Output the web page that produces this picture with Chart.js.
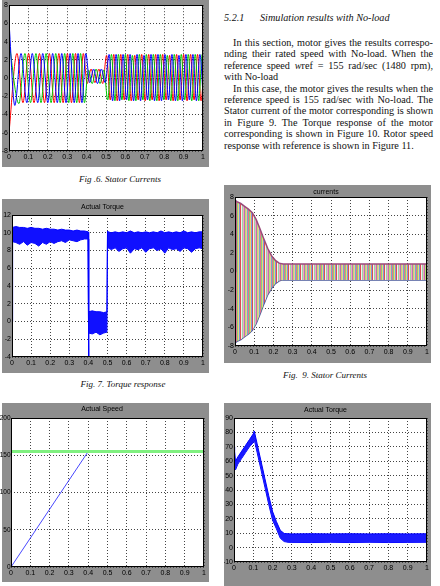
<!DOCTYPE html>
<html>
<head>
<meta charset="utf-8">
<script src="https://cdn.jsdelivr.net/npm/chart.js@4.4.1/dist/chart.umd.min.js"></script>
<style>
  body { margin: 0; width: 440px; height: 586px; overflow: hidden; background: #fff; position: relative;
         font-family: 'Liberation Serif', 'Times New Roman', serif; color: #111; }
  .frame { position: absolute; background: #8e8e8e; }
  .frame canvas { display: block; }
  .cap { position: absolute; font-style: italic; font-size: 9px; line-height: 10px; white-space: nowrap; transform: translateX(-50%); }
  .txt { position: absolute; left: 224px; width: 209px; font-size: 10.2px; line-height: 11.4px; }
  .txt div { height: 11.4px; }
  .j { text-align: justify; text-align-last: justify; }
  .ind { padding-left: 9px; }
</style>
</head>
<body>

<div class="frame" style="left:2px;top:0;width:207px;height:167px"><canvas id="fig6" width="207" height="167"></canvas></div>
<div class="cap" style="left:120px;top:174px">Fig .6. Stator Currents</div>

<div class="frame" style="left:2px;top:199px;width:207px;height:174px"><canvas id="fig7" width="207" height="174"></canvas></div>
<div class="cap" style="left:123px;top:379px">Fig. 7. Torque response</div>

<div class="frame" style="left:2px;top:403px;width:207px;height:179px"><canvas id="fig8" width="209" height="179" style="margin-left:-2px"></canvas></div>

<div class="frame" style="left:224px;top:185px;width:207px;height:178px"><canvas id="fig9" width="207" height="178"></canvas></div>
<div class="cap" style="left:325px;top:370px">Fig.&nbsp; 9. Stator Currents</div>

<div class="frame" style="left:224px;top:403px;width:207px;height:187px"><canvas id="fig10" width="207" height="187"></canvas></div>

<div class="txt" style="top:12px;font-style:italic;line-height:12px">
  <span>5.2.1</span><span style="position:absolute;left:36px">Simulation results with No-load</span>
</div>
<div class="txt" style="top:37px">
  <div class="j ind">In this section, motor gives the results correspo-</div>
  <div class="j">nding their rated speed with No-load. When the</div>
  <div class="j">reference speed <i>w</i>ref = 155 rad/sec (1480 rpm),</div>
  <div>with No-load</div>
  <div class="j ind">In this case, the motor gives the results when the</div>
  <div class="j">reference speed is 155 rad/sec with No-load. The</div>
  <div class="j">Stator current of the motor corresponding is shown</div>
  <div class="j">in Figure 9. The Torque response of the motor</div>
  <div class="j">corresponding is shown in Figure 10. Rotor speed</div>
  <div>response with reference is shown in Figure 11.</div>
</div>

<script>
// shared x ticks (time, s)
const xTicks = [0, 0.1, 0.2, 0.3, 0.4, 0.5, 0.6, 0.7, 0.8, 0.9, 1];

// Fig 6 - three phase stator currents (peak times / peak values)
const curA_t = [0, 0.030, 0.062, 0.092, 0.120, 0.148, 0.174, 0.200, 0.225, 0.249, 0.272, 0.294, 0.315, 0.336, 0.356, 0.376, 0.396,
  0.416, 0.436, 0.456, 0.476, 0.496, 0.516,
  0.534, 0.552, 0.570, 0.588, 0.606, 0.624, 0.642, 0.660, 0.678, 0.696, 0.714, 0.732, 0.750, 0.768, 0.786, 0.804, 0.822, 0.840,
  0.858, 0.876, 0.894, 0.912, 0.930, 0.948, 0.966, 0.984, 1.002];
const curA_y = [6.2, -3.0, 2.7, -2.7, 2.7, -2.7, 2.7, -2.7, 2.7, -2.7, 2.7, -2.7, 2.7, -2.7, 2.7, -2.7, 2.7,
  -0.5, 1.0, -0.6, 1.0, -0.5, 2.6,
  -2.5, 2.6, -2.5, 2.6, -2.4, 2.6, -2.5, 2.6, -2.5, 2.5, -2.4, 2.6, -2.5, 2.6, -2.5, 2.6, -2.4, 2.6, -2.5, 2.5,
  -2.5, 2.6, -2.4, 2.6, -2.5, 2.6, -2.5];
const curB_t = [0, 0.051, 0.082, 0.111, 0.139, 0.165, 0.191, 0.217, 0.241, 0.264, 0.287, 0.308, 0.329, 0.349, 0.369, 0.389,
  0.409, 0.429, 0.449, 0.469, 0.489, 0.509,
  0.528, 0.546, 0.564, 0.582, 0.600, 0.618, 0.636, 0.654, 0.672, 0.690, 0.708, 0.726, 0.744, 0.762, 0.780, 0.798, 0.816, 0.834,
  0.852, 0.870, 0.888, 0.906, 0.924, 0.942, 0.960, 0.978, 0.996, 1.014];
const curB_y = [4.0, -2.8, 2.7, -2.7, 2.7, -2.7, 2.7, -2.7, 2.7, -2.7, 2.7, -2.7, 2.7, -2.7, 2.7, -2.7,
  0.9, -0.6, 1.0, -0.6, 0.9, -2.4,
  2.6, -2.5, 2.6, -2.4, 2.6, -2.5, 2.5, -2.5, 2.6, -2.4, 2.6, -2.5, 2.6, -2.5,
  2.6, -2.4, 2.5, -2.5, 2.6, -2.5, 2.6, -2.4, 2.6, -2.5, 2.6, -2.5, 2.6, -2.4];
const curC_t = [0, 0.041, 0.072, 0.101, 0.129, 0.157, 0.183, 0.208, 0.233, 0.257, 0.279, 0.301, 0.322, 0.343, 0.363, 0.383,
  0.403, 0.423, 0.443, 0.463, 0.483, 0.503,
  0.522, 0.540, 0.558, 0.576, 0.594, 0.612, 0.630, 0.648, 0.666, 0.684, 0.702, 0.720, 0.738, 0.756, 0.774, 0.792, 0.810, 0.828,
  0.846, 0.864, 0.882, 0.900, 0.918, 0.936, 0.954, 0.972, 0.990, 1.008];
const curC_y = [-6.0, 2.7, -2.7, 2.7, -2.7, 2.7, -2.7, 2.7, -2.7, 2.7, -2.7, 2.7, -2.7, 2.7, -2.7, 2.7,
  -0.6, 1.0, -0.5, 1.0, -0.6, 2.5,
  -2.4, 2.6, -2.5, 2.6, -2.4, 2.6, -2.5, 2.5, -2.4, 2.6, -2.5, 2.6, -2.4, 2.6,
  -2.5, 2.6, -2.4, 2.5, -2.5, 2.6, -2.4, 2.6, -2.5, 2.6, -2.4, 2.6, -2.5, 2.6];
const fig6YTicks = [-8, -6, -4, -2, 0, 2, 4, 6, 8];

// Fig 7 - torque band (upper / lower edge of the ripple)
const torq1_t = [0, 0.003, 0.02, 0.04, 0.06, 0.08, 0.10, 0.12, 0.14, 0.16, 0.18, 0.20, 0.22, 0.24, 0.26, 0.28, 0.30, 0.32, 0.34,
  0.36, 0.38, 0.398, 0.400, 0.403, 0.42, 0.44, 0.46, 0.48, 0.497, 0.500, 0.503, 0.52, 0.54, 0.56, 0.58, 0.60, 0.62, 0.64,
  0.66, 0.68, 0.70, 0.72, 0.74, 0.76, 0.78, 0.80, 0.82, 0.84, 0.86, 0.88, 0.90, 0.92, 0.94, 0.96, 0.98, 1.0];
const torq1_hi = [0, 10.6, 10.7, 10.6, 10.6, 10.5, 10.6, 10.5, 10.5, 10.4, 10.5, 10.4, 10.4, 10.3, 10.4, 10.3, 10.3, 10.2, 10.3,
  10.2, 10.2, 10.1, -4, 1.1, 1.2, 1.1, 1.1, 1.0, 1.1, 10.2, 10.1, 10.0, 10.1, 10.0, 10.1, 10.0, 10.2, 10.0,
  10.1, 10.0, 10.1, 10.0, 10.1, 10.0, 10.2, 10.0, 10.1, 10.0, 10.1, 10.0, 10.2, 10.0, 10.1, 10.0, 10.1, 10.1];
const torq1_lo = [0, 9.0, 8.9, 8.7, 9.0, 8.6, 8.9, 8.8, 8.5, 8.9, 8.7, 9.0, 8.8, 9.0, 9.1, 8.9, 9.2, 9.1, 9.0,
  9.2, 9.3, 9.3, -4, -1.3, -1.4, -1.2, -1.5, -1.3, -1.2, 10.0, 8.3, 8.1, 8.3, 7.9, 8.2, 8.3, 7.7, 8.2,
  8.1, 8.3, 7.8, 8.2, 8.3, 8.0, 8.2, 7.7, 8.3, 8.1, 8.2, 7.9, 8.3, 8.2, 7.8, 8.2, 8.3, 8.2];
const fig7YTicks = [-4, -2, 0, 2, 4, 6, 8, 10, 12];

// Fig 8 - rotor speed and reference (rad/s)
const speedRef_t = [0, 1];
const speedRef_y = [155, 155];
const speed_t = [0, 0.4, 1];
const speed_y = [0, 155, 155];
const fig8YTicks = [0, 50, 100, 150, 200];

// Fig 9 - stator currents, no load (envelope of the oscillation)
const cur2_t = [0, 0.004, 0.01, 0.03, 0.05, 0.07, 0.09, 0.11, 0.13, 0.15, 0.17, 0.19, 0.21, 0.23, 0.25, 0.27, 0.30,
  0.40, 0.50, 0.60, 0.70, 0.80, 0.90, 1.00];
const cur2_hi = [0, 7.6, 7.5, 7.3, 7.0, 6.7, 6.3, 5.6, 4.6, 3.5, 2.5, 1.7, 1.2, 0.9, 0.8, 0.8, 0.8,
  0.8, 0.8, 0.8, 0.8, 0.8, 0.8, 0.8];
const cur2_lo = [0, -7.6, -7.5, -7.3, -7.0, -6.7, -6.3, -5.6, -4.6, -3.5, -2.5, -1.8, -1.3, -1.0, -0.9, -0.9, -0.9,
  -0.9, -0.9, -0.9, -0.9, -0.9, -0.9, -0.9];
const fig9YTicks = [-8, -6, -4, -2, 0, 2, 4, 6, 8];

// Fig 10 - torque, no load
const torq2_t = [0, 0.003, 0.008, 0.02, 0.04, 0.06, 0.08, 0.10, 0.105, 0.12, 0.14, 0.16, 0.18, 0.20, 0.22, 0.24, 0.26,
  0.28, 0.30, 0.40, 0.50, 0.60, 0.70, 0.80, 0.90, 1.00];
const torq2_hi = [70, 67, 60, 63, 67, 71, 75, 79, 81, 72, 60, 48, 36, 25, 18, 12, 9.8,
  9.6, 9.5, 9.6, 9.5, 9.6, 9.5, 9.6, 9.5, 9.6];
const torq2_lo = [56, 55, 54, 58, 62, 66, 70, 73, 75, 66, 54, 42, 30, 19, 13, 6.5, 4.2,
  3.7, 3.6, 3.5, 3.7, 3.5, 3.7, 3.5, 3.6, 3.7];
const fig10YTicks = [-10, 0, 10, 20, 30, 40, 50, 60, 70, 80, 90];

Chart.defaults.font.family = "'Liberation Sans', Arial, sans-serif";
Chart.defaults.font.size = 7;
Chart.defaults.color = '#000';

function pts(ts, ys) {
  return ts.map((t, i) => ({ x: t, y: ys[i] }));
}

// white plot area + black box like a matlab axes
const matlabBox = {
  id: 'matlabBox',
  beforeDraw(chart) {
    const a = chart.chartArea, ctx = chart.ctx;
    ctx.save();
    ctx.fillStyle = '#fff';
    ctx.fillRect(a.left, a.top, a.right - a.left, a.bottom - a.top);
    ctx.restore();
  },
  afterDraw(chart) {
    const a = chart.chartArea, ctx = chart.ctx;
    ctx.save();
    ctx.strokeStyle = '#000';
    ctx.lineWidth = 1;
    ctx.strokeRect(Math.round(a.left) + 0.5, Math.round(a.top) + 0.5, Math.round(a.right - a.left) - 1, Math.round(a.bottom - a.top) - 1);
    ctx.restore();
  }
};

function makeChart(id, datasets, yTicks, box) {
  const grid = { color: '#444', lineWidth: 1, drawTicks: false };
  const border = { display: false, dash: [1, 2] };
  return new Chart(document.getElementById(id), {
    type: 'line',
    data: { datasets: datasets },
    options: {
      responsive: false,
      animation: false,
      devicePixelRatio: 1,
      events: [],
      layout: { padding: { top: box.top, right: box.right, left: 0, bottom: 0 } },
      plugins: {
        legend: { display: false },
        tooltip: { enabled: false },
        title: {
          display: !!box.title,
          text: box.title,
          color: '#000',
          font: { size: 7, weight: 'normal', lineHeight: 1 },
          padding: box.titlePad || 0
        }
      },
      elements: { point: { radius: 0 } },
      scales: {
        x: {
          type: 'linear', min: 0, max: 1,
          afterBuildTicks: s => { s.ticks = xTicks.map(v => ({ value: v })); },
          afterFit: s => { s.height = box.xh; },
          grid: grid, border: border,
          ticks: { padding: 2, maxRotation: 0, autoSkip: false, callback: v => String(v) }
        },
        y: {
          type: 'linear', min: yTicks[0], max: yTicks[yTicks.length - 1],
          afterBuildTicks: s => { s.ticks = yTicks.map(v => ({ value: v })); },
          afterFit: s => { s.width = box.yw; },
          grid: grid, border: border,
          ticks: { padding: box.ypad === undefined ? 1 : box.ypad, autoSkip: false, callback: v => String(v),
                   font: { size: box.yfont || 7 } }
        }
      }
    },
    plugins: [matlabBox]
  });
}

// Fig 6
makeChart('fig6', [
  { data: pts(curA_t, curA_y), borderColor: '#0000ff', borderWidth: 1, cubicInterpolationMode: 'monotone', fill: false },
  { data: pts(curB_t, curB_y), borderColor: '#00c800', borderWidth: 1, cubicInterpolationMode: 'monotone', fill: false },
  { data: pts(curC_t, curC_y), borderColor: '#ff0000', borderWidth: 1, cubicInterpolationMode: 'monotone', fill: false }
], fig6YTicks, { yw: 7, xh: 16, top: 5, right: 6 });

// Fig 7
makeChart('fig7', [
  { data: pts(torq1_t, torq1_hi), borderColor: '#0000ff', backgroundColor: '#1010ff', borderWidth: 1, fill: '+1' },
  { data: pts(torq1_t, torq1_lo), borderColor: '#0000ff', borderWidth: 1, fill: false }
], fig7YTicks, { yw: 10, xh: 16, top: 0, right: 6, title: 'Actual Torque', titlePad: { top: 4.5, bottom: 4.5 } });

// Fig 8 (canvas starts 2px left of the frame so the 3 digit labels fit)
makeChart('fig8', [
  { data: pts(speedRef_t, speedRef_y), borderColor: '#80f080', borderWidth: 3, fill: false },
  { data: pts(speed_t, speed_y), borderColor: '#4848ff', borderWidth: 1, fill: false }
], fig8YTicks, { yw: 11, xh: 15, top: 0, right: 5, yfont: 6.5, ypad: 0.5, title: 'Actual Speed', titlePad: { top: 2.5, bottom: 5.5 } });

// Fig 9 - striped fill to mimic the many overlapping coloured traces
function stripes() {
  const cols = ['#e8728c', '#86cc80', '#ecd870', '#8096e4', '#d85050', '#f6eef0', '#9ad6a8', '#f0a8c0',
    '#c070b0', '#b8e070', '#f4c0a0', '#70b0c8'];
  const c = document.createElement('canvas');
  c.width = cols.length; c.height = 4;
  const g = c.getContext('2d');
  cols.forEach((col, i) => { g.fillStyle = col; g.fillRect(i, 0, 1, 4); });
  return g.createPattern(c, 'repeat');
}
makeChart('fig9', [
  { data: pts(cur2_t, cur2_hi), borderColor: '#9a4a7a', backgroundColor: stripes(), borderWidth: 1.5, fill: '+1' },
  { data: pts(cur2_t, cur2_lo), borderColor: '#4a5a9a', borderWidth: 1.5, fill: false }
], fig9YTicks, { yw: 11, xh: 17, top: 0, right: 3, title: 'currents', titlePad: { top: 3.5, bottom: 1.5 } });

// Fig 10
makeChart('fig10', [
  { data: pts(torq2_t, torq2_hi), borderColor: '#0000ff', backgroundColor: '#1a1aff', borderWidth: 1, fill: '+1' },
  { data: pts(torq2_t, torq2_lo), borderColor: '#0000ff', borderWidth: 1, fill: false }
], fig10YTicks, { yw: 10, xh: 28, top: 0, right: 4, title: 'Actual Torque', titlePad: { top: 3.5, bottom: 4.5 } });
</script>
</body>
</html>
